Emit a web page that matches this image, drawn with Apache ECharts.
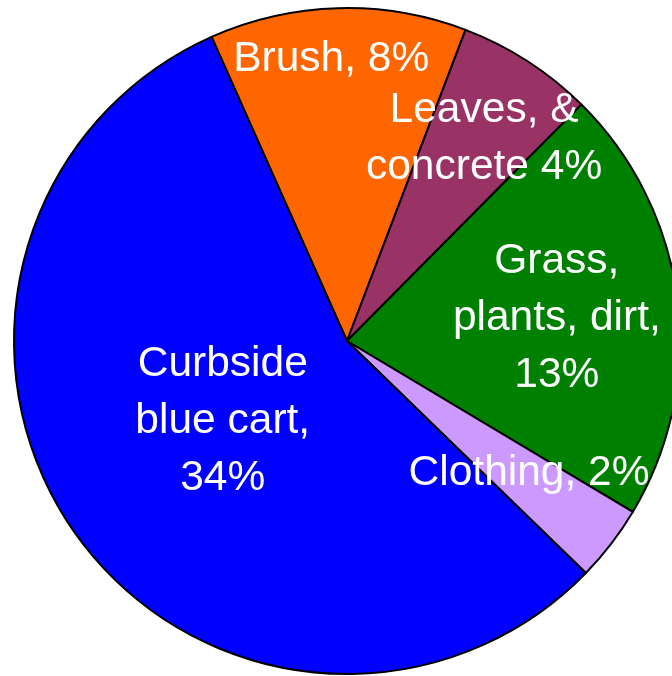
<!DOCTYPE html>
<html>
<head>
<meta charset="utf-8">
<script src="https://cdn.jsdelivr.net/npm/echarts@6/dist/echarts.min.js"></script>
<style>
html,body{margin:0;padding:0;background:#fff;}
#chart{width:672px;height:676px;}
</style>
</head>
<body>
<div id="chart"></div>
<script>
// Data (labels show rounded share)
const categories = ['Brush', 'Leaves, & concrete', 'Grass, plants, dirt', 'Clothing', 'Curbside blue cart'];
const values = [7.6, 4.05, 12.9, 2.25, 34.2];
const labelTemplates = ['Brush, {p}', 'Leaves, &\nconcrete {p}', 'Grass,\nplants, dirt,\n{p}', 'Clothing, {p}', 'Curbside\nblue cart,\n{p}'];
const colors = ['#FF6600', '#993366', '#008000', '#CC99FF', '#0000FF'];

// Layout / style
const CX = 347, CY = 341, R = 333;
const START_ANGLE = 114; // echarts: degrees ccw from 3 o'clock
// label placement: radius fraction and angular offset (deg, clockwise) from slice mid-angle
const labelPlace = [[0.855, -1.6], [0.74, 1.0], [0.635, 0.1], [0.67, -2.2], [0.44, 2.9]];
const LABEL_DY = 3;

const total = values.reduce((a, b) => a + b, 0);
const midAngles = [];
let acc = 0;
values.forEach(v => {
  const span = v / total * 360;
  midAngles.push(acc + span / 2);
  acc += span;
});

const chart = echarts.init(document.getElementById('chart'), null, {renderer: 'canvas'});
chart.setOption({
  animation: false,
  backgroundColor: '#ffffff',
  series: [{
    type: 'pie',
    center: [CX, CY],
    radius: [0, R],
    startAngle: START_ANGLE,
    clockwise: true,
    avoidLabelOverlap: false,
    data: categories.map((c, i) => ({
      name: c,
      value: values[i],
      itemStyle: {color: colors[i]}
    })),
    itemStyle: {borderColor: '#000000', borderWidth: 2},
    emphasis: {disabled: true},
    label: {
      show: true,
      position: 'inside',
      color: '#ffffff',
      fontFamily: '"Liberation Sans", Arial, sans-serif',
      fontSize: 42.5,
      lineHeight: 57,
      align: 'center',
      formatter: p => labelTemplates[p.dataIndex].replace('{p}', Math.round(values[p.dataIndex]) + '%')
    },
    labelLine: {show: false},
    labelLayout: function (p) {
      const i = p.dataIndex;
      const compass = (90 - START_ANGLE) + midAngles[i] + labelPlace[i][1];
      const a = compass * Math.PI / 180;
      const r = labelPlace[i][0] * R;
      return {
        x: CX + r * Math.sin(a),
        y: CY - r * Math.cos(a) + LABEL_DY,
        align: 'center',
        verticalAlign: 'middle'
      };
    }
  }]
});
</script>
</body>
</html>
